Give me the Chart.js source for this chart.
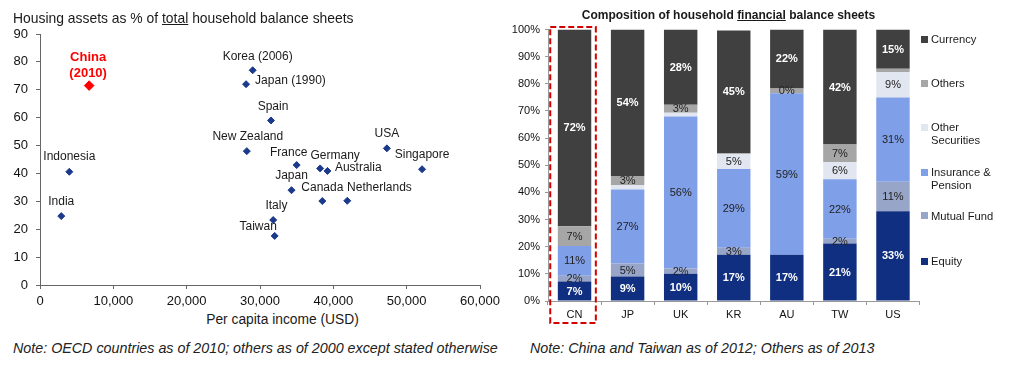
<!DOCTYPE html>
<html>
<head>
<meta charset="utf-8">
<script src="https://cdn.jsdelivr.net/npm/chart.js@4.4.1/dist/chart.umd.min.js"></script>
<style>
  body { margin: 0; background: #fff; font-family: "Liberation Sans", Arial, sans-serif; color: #1a1a1a; }
  #wrap { position: relative; width: 1012px; height: 375px; overflow: hidden; }
  canvas { position: absolute; top: 0; }
  .t { position: absolute; white-space: nowrap; }
  .note { font-style: italic; font-size: 14.3px; line-height: 16px; top: 340px; color: #222; }
  .leg { position: absolute; left: 921px; font-size: 11.2px; line-height: 12.7px; white-space: pre; }
  .leg i { position: absolute; left: 0; top: 2.5px; width: 7px; height: 7px; }
  .leg span { position: absolute; left: 10px; top: 0; }
</style>
</head>
<body>
<div id="wrap">
  <canvas id="scatter" width="510" height="312" style="left:0"></canvas>
  <canvas id="bars" width="512" height="325" style="left:500px"></canvas>

  <div class="t" style="left:13px;top:10px;font-size:13.9px;line-height:16px">Housing assets as % of <u>total</u> household balance sheets</div>
  <div class="t" style="left:282.5px;top:312px;font-size:13.8px;line-height:16px;transform:translateX(-50%)">Per capita income (USD)</div>
  <div class="t" style="left:728.5px;top:8px;font-size:12px;line-height:15px;font-weight:bold;transform:translateX(-50%)">Composition of household <u>financial</u> balance sheets</div>
  <div class="t note" style="left:13px">Note: OECD countries as of 2010; others as of 2000 except stated otherwise</div>
  <div class="t note" style="left:530px">Note: China and Taiwan as of 2012; Others as of 2013</div>
  <div id="legend"></div>
</div>

<script>
// ---- left: housing share vs income ----
const countries = ['China (2010)', 'Korea (2006)', 'Japan (1990)', 'Spain', 'New Zealand', 'USA', 'Indonesia', 'India',
  'France', 'Germany', 'Australia', 'Singapore', 'Japan', 'Canada', 'Netherlands', 'Italy', 'Taiwan']
const income = [6700, 29000, 28100, 31500, 28200, 47300, 4000, 2900, 35000, 38200, 39200, 52100, 34300, 38500, 41900, 31800, 32000]
const housingShare = [71.5, 77, 72, 59, 48, 49, 40.6, 24.7, 43, 41.8, 40.9, 41.5, 34, 30.1, 30.2, 23.3, 17.6]
const xTicks = [0, 10000, 20000, 30000, 40000, 50000, 60000]
const yTicks = [0, 10, 20, 30, 40, 50, 60, 70, 80, 90]

// ---- right: financial balance sheet composition (%) ----
const markets = ['CN', 'JP', 'UK', 'KR', 'AU', 'TW', 'US']
const equity = [7.2, 9, 10, 17, 17, 21.2, 33.1]
const mutualFund = [2.1, 4.8, 2, 2.6, 0, 1.7, 10.8]
const insurance = [11, 27.3, 56, 29, 59.5, 21.9, 31.1]
const otherSec = [0, 1.5, 1.3, 5.5, 0, 6.3, 9.3]
const others = [7.2, 3.4, 3, 0.3, 1.8, 6.5, 1.2]
const currency = [72.5, 54, 27.7, 45.2, 21.7, 42.4, 14.5]

// printed numbers on the bars ('' = not printed)
const equityLbl = ['7%', '9%', '10%', '17%', '17%', '21%', '33%']
const mutualFundLbl = ['2%', '5%', '2%', '3%', '', '2%', '11%']
const insuranceLbl = ['11%', '27%', '56%', '29%', '59%', '22%', '31%']
const otherSecLbl = ['', '', '', '5%', '', '6%', '9%']
const othersLbl = ['7%', '3%', '3%', '', '0%', '7%', '']
const currencyLbl = ['72%', '54%', '28%', '45%', '22%', '42%', '15%']

const seriesNames = ['Equity', 'Mutual Fund', 'Insurance &\nPension', 'Other\nSecurities', 'Others', 'Currency']

// styles / placement
const FONT = '"Liberation Sans", Arial, sans-serif'
const seriesColors = ['#102f80', '#97a5c9', '#7f9fe8', '#e1e6f0', '#a6a6a6', '#404040']
const labelWhite = [true, false, false, false, false, true]
const legendY = { 'Currency': 33, 'Others': 77, 'Other\nSecurities': 121, 'Insurance &\nPension': 166, 'Mutual Fund': 209.5, 'Equity': 255 }
// label centre relative to its point
const labelPos = {
  'China (2010)': { dx: -1, dy: -28.5, dy2: -11.7 },
  'Korea (2006)': { dx: 5, dy: -13.3 },
  'Japan (1990)': { dx: 44.4, dy: -3.3 },
  'Spain': { dx: 2, dy: -13.3 },
  'New Zealand': { dx: 1, dy: -14.6 },
  'USA': { dx: 0, dy: -15 },
  'Indonesia': { dx: 0, dy: -15 },
  'India': { dx: 0, dy: -14.3 },
  'France': { dx: -8, dy: -12.3 },
  'Germany': { dx: 15, dy: -13 },
  'Australia': { dx: 30.8, dy: -3.3 },
  'Singapore': { dx: 0, dy: -14.3 },
  'Japan': { dx: 0, dy: -14.3 },
  'Canada': { dx: 0, dy: -13.7 },
  'Netherlands': { dx: 32.2, dy: -13.4 },
  'Italy': { dx: 3.2, dy: -14 },
  'Taiwan': { dx: -16.5, dy: -9.3 },
}

Chart.defaults.font.family = FONT
Chart.defaults.color = '#111'

const points = countries.map((c, i) => ({ x: income[i], y: housingShare[i], name: c }))

const pointLabels = {
  id: 'pointLabels',
  afterDatasetsDraw(chart) {
    const ctx = chart.ctx
    ctx.save()
    ctx.textAlign = 'center'
    ctx.textBaseline = 'middle'
    chart.data.datasets.forEach((ds, d) => {
      chart.getDatasetMeta(d).data.forEach((el, j) => {
        const name = ds.data[j].name
        const p = labelPos[name]
        if (p.dy2 !== undefined) {
          ctx.fillStyle = '#ff0000'
          ctx.font = 'bold 13px ' + FONT
          const parts = name.split(' ')
          ctx.fillText(parts[0], el.x + p.dx, el.y + p.dy)
          ctx.fillText(parts[1], el.x + p.dx, el.y + p.dy2)
        } else {
          ctx.fillStyle = '#1a1a1a'
          ctx.font = '12px ' + FONT
          ctx.fillText(name, el.x + p.dx, el.y + p.dy)
        }
      })
    })
    ctx.restore()
  }
}

new Chart(document.getElementById('scatter'), {
  type: 'scatter',
  data: {
    datasets: [{
      data: points.slice(1),
      pointStyle: 'rectRot',
      radius: 3.5,
      backgroundColor: '#1c3a8c',
      borderColor: '#1c3a8c',
      borderWidth: 1,
    }, {
      data: points.slice(0, 1),
      pointStyle: 'rectRot',
      radius: 4.8,
      backgroundColor: '#ff0000',
      borderColor: '#ff0000',
      borderWidth: 1,
    }]
  },
  options: {
    responsive: false,
    animation: false,
    devicePixelRatio: 1,
    layout: { padding: { top: 34, right: 30, left: 0, bottom: 0 } },
    plugins: { legend: { display: false }, tooltip: { enabled: false } },
    scales: {
      x: {
        type: 'linear', min: 0, max: 60000,
        afterBuildTicks: s => { s.ticks = xTicks.map(v => ({ value: v })) },
        ticks: { callback: v => v.toLocaleString('en-US'), font: { size: 13 }, padding: 5, maxRotation: 0 },
        grid: { drawOnChartArea: false, tickLength: 4, color: '#666' },
        border: { color: '#666' },
        afterFit: s => { s.height = 27 },
      },
      y: {
        min: 0, max: 90,
        afterBuildTicks: s => { s.ticks = yTicks.map(v => ({ value: v })) },
        ticks: { font: { size: 13 }, padding: 8 },
        grid: { drawOnChartArea: false, tickLength: 4, color: '#666' },
        border: { color: '#666' },
        afterFit: s => { s.width = 40 },
      }
    }
  },
  plugins: [pointLabels]
})

const barLabels = [equityLbl, mutualFundLbl, insuranceLbl, otherSecLbl, othersLbl, currencyLbl]

const segLabels = {
  id: 'segLabels',
  afterDatasetsDraw(chart) {
    const ctx = chart.ctx
    ctx.save()
    ctx.textAlign = 'center'
    ctx.textBaseline = 'middle'
    barLabels.forEach((lbls, i) => {
      ctx.font = (labelWhite[i] ? 'bold ' : '') + '11px ' + FONT
      ctx.fillStyle = labelWhite[i] ? '#ffffff' : '#222'
      chart.getDatasetMeta(i).data.forEach((bar, j) => {
        if (!lbls[j]) return
        ctx.fillText(lbls[j], bar.x, (bar.y + bar.base) / 2 + 0.5)
      })
    })
    ctx.restore()
  }
}

// red dashed box around the first category
const highlight = {
  id: 'highlight',
  afterDraw(chart) {
    const ctx = chart.ctx
    const cx = chart.scales.x.getPixelForValue(0) - 1.5
    const a = chart.chartArea
    ctx.save()
    ctx.strokeStyle = '#d40000'
    ctx.lineWidth = 2
    ctx.setLineDash([6, 3])
    ctx.strokeRect(cx - 22.8, a.top - 2.5, 45.6, a.bottom - a.top + 24.5)
    ctx.restore()
  }
}

const seriesData = [equity, mutualFund, insurance, otherSec, others, currency]

new Chart(document.getElementById('bars'), {
  type: 'bar',
  data: {
    labels: markets,
    datasets: seriesData.map((d, i) => ({
      label: seriesNames[i],
      data: d,
      backgroundColor: seriesColors[i],
      borderWidth: 0,
      barPercentage: 0.63,
      categoryPercentage: 1,
    }))
  },
  options: {
    responsive: false,
    animation: false,
    devicePixelRatio: 1,
    layout: { padding: { top: 29.5, right: 92.5, left: 0, bottom: 0 } },
    plugins: { legend: { display: false }, tooltip: { enabled: false } },
    scales: {
      x: {
        stacked: true,
        ticks: { font: { size: 11 }, padding: 3 },
        grid: { drawOnChartArea: false, tickLength: 4, color: '#999', offset: true },
        border: { color: '#999' },
        afterFit: s => { s.height = 24 },
      },
      y: {
        stacked: true, min: 0, max: 100,
        ticks: { stepSize: 10, callback: v => v + '%', font: { size: 11 }, padding: 5 },
        grid: { drawOnChartArea: false, tickLength: 3, color: '#999' },
        border: { color: '#999' },
        afterFit: s => { s.width = 48 },
      }
    }
  },
  plugins: [segLabels, highlight]
})

// legend, top to bottom = top of stack first
const legend = document.getElementById('legend')
seriesNames.slice().reverse().forEach(name => {
  const i = seriesNames.indexOf(name)
  const div = document.createElement('div')
  div.className = 'leg'
  div.style.top = legendY[name] + 'px'
  const sw = document.createElement('i')
  sw.style.background = seriesColors[i]
  const tx = document.createElement('span')
  tx.textContent = name
  div.appendChild(sw)
  div.appendChild(tx)
  legend.appendChild(div)
})
</script>
</body>
</html>
